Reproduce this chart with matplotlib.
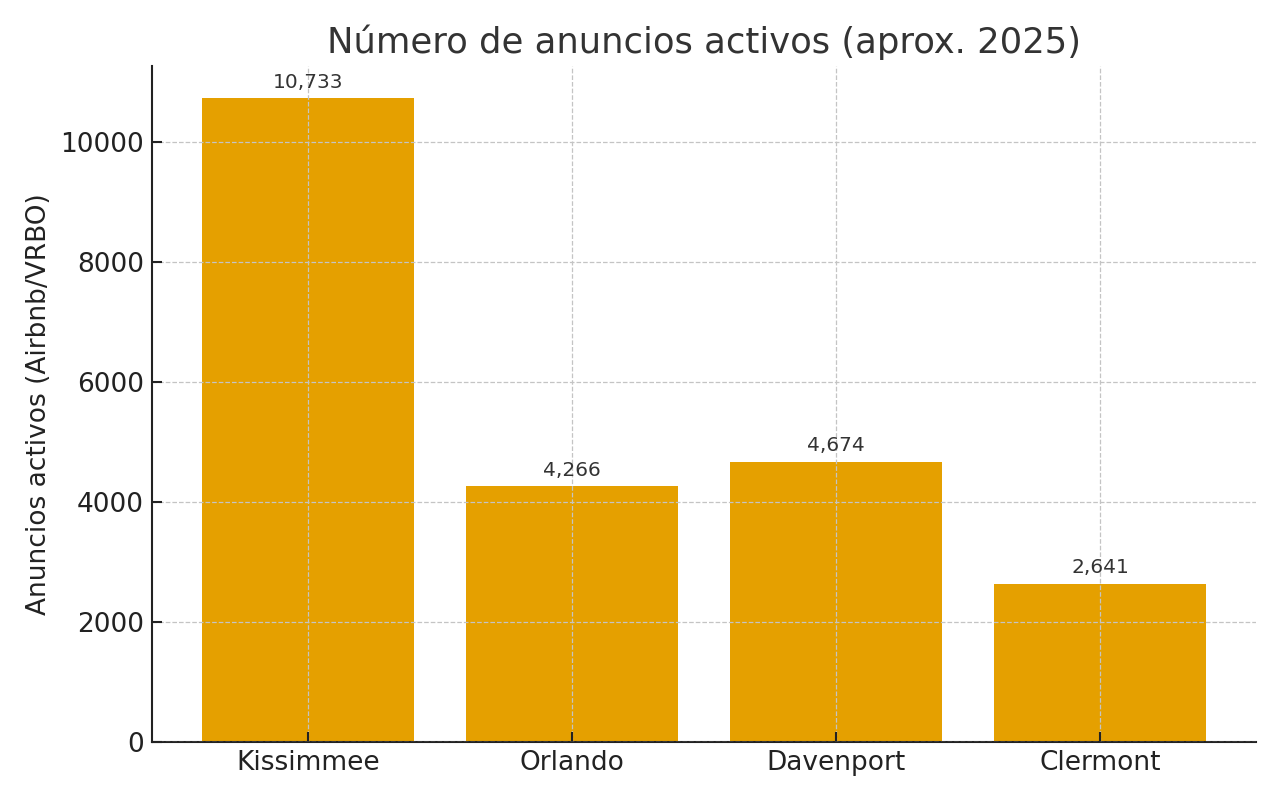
import matplotlib
matplotlib.use("Agg")
import matplotlib.pyplot as plt

### data
ciudades = ["Kissimmee", "Orlando", "Davenport", "Clermont"]
anuncios = [10733, 4266, 4674, 2641]

### plotting
fig, ax = plt.subplots(figsize=(12.8, 8), dpi=100)
bars = ax.bar(ciudades, anuncios, color="#E5A000", width=0.8, zorder=1)

for b, v in zip(bars, anuncios):
    ax.annotate(f"{v:,}", (b.get_x() + b.get_width() / 2, v),
                xytext=(0, 4.5), textcoords="offset points",
                ha="center", va="bottom", fontsize=14.5, color="#333333")

ax.set_title("Número de anuncios activos (aprox. 2025)", fontsize=25.5,
             color="#333333", pad=9)
ax.set_ylabel("Anuncios activos (Airbnb/VRBO)", fontsize=19, color="#222222",
              labelpad=6)
ax.tick_params(axis="both", labelsize=19, direction="in", length=7, width=1.5,
               colors="#222222", pad=6)
ax.grid(True, linestyle="--", color="#c4c4c4", linewidth=0.9, zorder=3)
ax.set_axisbelow(False)
for s in ["top", "right"]:
    ax.spines[s].set_visible(False)
for s in ["left", "bottom"]:
    ax.spines[s].set_linewidth(1.5)
    ax.spines[s].set_color("#222222")

plt.subplots_adjust(left=0.119, right=0.981, top=0.9175, bottom=0.0725)
plt.savefig("out.png")
